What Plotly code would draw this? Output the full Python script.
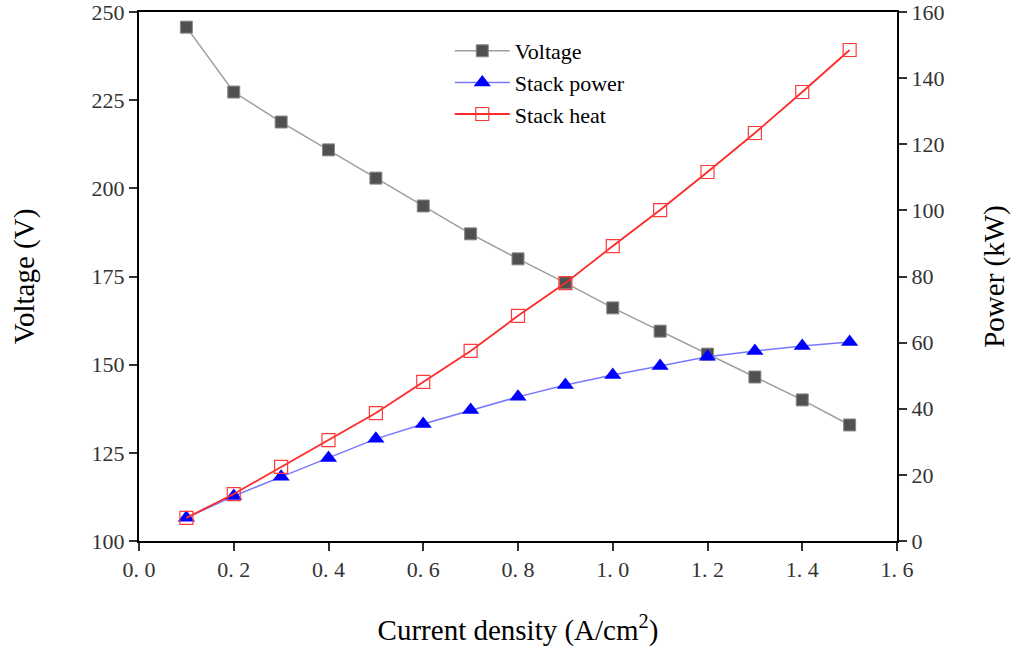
import plotly.graph_objects as go

current = [0.1, 0.2, 0.3, 0.4, 0.5, 0.6, 0.7, 0.8, 0.9, 1.0, 1.1, 1.2, 1.3, 1.4, 1.5]
voltage = [245.7, 227.3, 218.8, 210.9, 202.9, 195.0, 187.1, 180.0, 173.2, 166.1, 159.5, 153.0, 146.5, 140.0, 132.9]
stack_power = [7.0, 13.6, 19.4, 25.1, 30.9, 35.4, 39.6, 43.6, 47.2, 50.2, 52.9, 55.7, 57.5, 59.0, 60.2]
stack_heat = [7.0, 14.2, 22.4, 30.5, 38.7, 48.1, 57.5, 68.1, 78.0, 89.2, 100.1, 111.6, 123.4, 135.8, 148.5]

x_ticks = [0.0, 0.2, 0.4, 0.6, 0.8, 1.0, 1.2, 1.4, 1.6]
x_tick_text = ["0. 0", "0. 2", "0. 4", "0. 6", "0. 8", "1. 0", "1. 2", "1. 4", "1. 6"]
v_ticks = [100, 125, 150, 175, 200, 225, 250]
p_ticks = [0, 20, 40, 60, 80, 100, 120, 140, 160]

FONT = "Liberation Serif"

fig = go.Figure()
fig.add_trace(go.Scatter(
    x=current, y=voltage, name="Voltage", mode="lines+markers",
    line=dict(color="#9e9e9e", width=1.5),
    marker=dict(symbol="square", size=12, color="#505050", line=dict(color="#8a8a8a", width=1)),
    yaxis="y"))
fig.add_trace(go.Scatter(
    x=current, y=stack_power, name="Stack power", mode="lines+markers",
    line=dict(color="#7878ff", width=1.5),
    marker=dict(symbol="triangle-up", size=15, color="#0000ff", line=dict(color="#0000ff", width=0)),
    yaxis="y2"))
fig.add_trace(go.Scatter(
    x=current, y=stack_heat, name="Stack heat", mode="lines+markers",
    line=dict(color="#ff2a2a", width=1.8),
    marker=dict(symbol="square-open", size=13, color="#ff3a3a", line=dict(width=1.2)),
    yaxis="y2"))

axis_common = dict(
    showline=True, linecolor="black", linewidth=2, ticks="outside", ticklen=8, tickwidth=2,
    tickcolor="#333333", showgrid=False, zeroline=False, ticklabeloverflow="allow",
    tickfont=dict(family=FONT, size=22, color="#333333"),
)

fig.update_layout(
    width=1012, height=648,
    paper_bgcolor="white", plot_bgcolor="white",
    margin=dict(l=139, r=115, t=12, b=107, autoexpand=False),
    font=dict(family=FONT, color="black"),
    xaxis=dict(range=[0, 1.6], tickvals=x_ticks, ticktext=x_tick_text, mirror=True,
               title=dict(text="Current density (A/cm<sup>2</sup>)", font=dict(family=FONT, size=29), standoff=38),
               **axis_common),
    yaxis=dict(range=[100, 250], tickvals=v_ticks,
               title=dict(text="Voltage (V)", font=dict(family=FONT, size=29), standoff=48),
               **axis_common),
    yaxis2=dict(range=[0, 160], tickvals=p_ticks, overlaying="y", side="right",
                title=dict(text="Power (kW)", font=dict(family=FONT, size=29), standoff=40),
                **axis_common),
    legend=dict(x=0.41, y=0.966, xanchor="left", yanchor="top", bgcolor="rgba(0,0,0,0)",
                font=dict(family=FONT, size=22, color="black"), itemwidth=55, tracegroupgap=0),
    showlegend=True,
)

fig.write_html("out.html")
